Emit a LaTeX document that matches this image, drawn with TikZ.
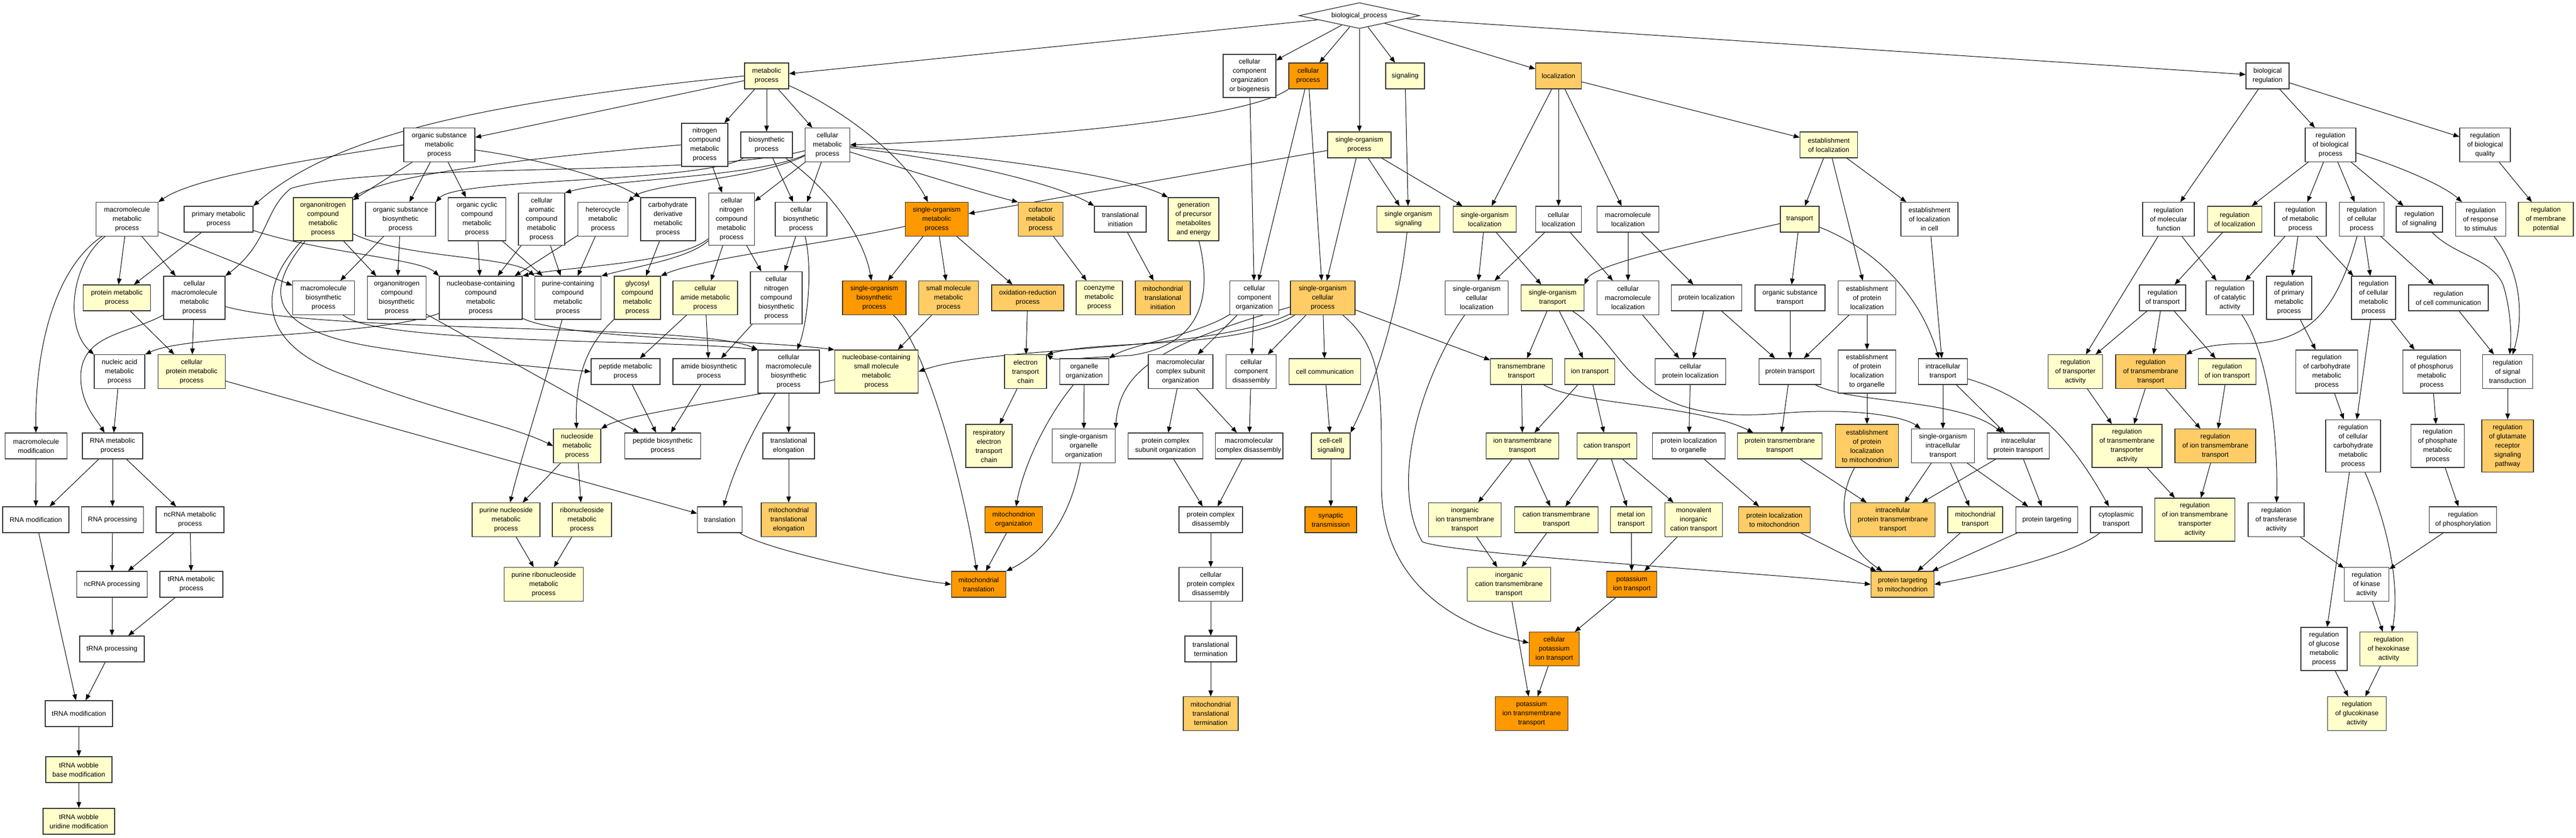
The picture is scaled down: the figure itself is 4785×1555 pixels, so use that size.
\documentclass[tikz,border=0pt]{standalone}
\usepackage{fontspec}
\setmainfont{Liberation Sans}
\usetikzlibrary{arrows.meta,shapes.geometric}
\definecolor{cy}{HTML}{FFFFCC}
\definecolor{clo}{HTML}{FFCC66}
\definecolor{co}{HTML}{FF9900}
\pgfdeclarelayer{back}
\pgfdeclarelayer{bg}
\pgfsetlayers{back,bg,main}
\tikzset{
 gn/.style={rectangle,draw=black!80,line width=1.3pt,align=center,inner xsep=3pt,inner ysep=0pt,font=\fontsize{12.6}{17}\selectfont},
 fw/.style={gn,fill=white}, fy/.style={gn,fill=cy}, flo/.style={gn,fill=clo}, fo/.style={gn,fill=co},
 h2/.style={minimum height=48pt}, h3/.style={minimum height=62.5pt}, h4/.style={minimum height=80pt}, h5/.style={minimum height=97pt},
 mw/.style={minimum width=#1pt},
 ed/.style={line width=1pt,-{Triangle[length=11pt,width=8.5pt]}}
}
\begin{document}
\begin{tikzpicture}[x=1pt,y=-1pt]
\begin{pgfonlayer}{back}
\fill[white] (0,0) rectangle (4785,1555);
\end{pgfonlayer}
\useasboundingbox (0,0) rectangle (4785,1555);
% row 29
\node[diamond,draw=black!80,line width=1.3pt,fill=white,minimum width=224pt,minimum height=48pt,inner sep=0pt,aspect=4,font=\fontsize{12.6}{17}\selectfont] (bp) at (2525,29) {biological\_process};
% row 141
\node[fy,h2,mw=82] (mp) at (1424,141) {metabolic\\process};
\node[fw,h4,mw=98] (ccob) at (2321,141) {cellular\\component\\organization\\or biogenesis};
\node[fo,h2,mw=72] (cp) at (2430,141) {cellular\\process};
\node[fy,h2,mw=72] (sig) at (2610,141) {signaling};
\node[flo,h2,mw=85] (loc) at (2895,141) {localization};
\node[fw,h2,mw=80] (breg) at (4212,141) {biological\\regulation};
% row 269
\node[fw,h3,mw=132] (osmp) at (816,269) {organic substance\\metabolic\\process};
\node[fw,h4,mw=86] (ncmp) at (1309,269) {nitrogen\\compound\\metabolic\\process};
\node[fw,h2,mw=96] (bsp) at (1424,269) {biosynthetic\\process};
\node[fw,h3,mw=83] (cmp) at (1537,269) {cellular\\metabolic\\process};
\node[fy,h2,mw=118] (sop) at (2525,269) {single-organism\\process};
\node[fy,h2,mw=107] (eloc) at (3397,269) {establishment\\of localization};
\node[fw,h3,mw=94] (rbp) at (4329,269) {regulation\\of biological\\process};
\node[fw,h3,mw=94] (rbq) at (4616,269) {regulation\\of biological\\quality};
% row 407
\node[fw,h3,mw=115] (mmp) at (236,407) {macromolecule\\metabolic\\process};
\node[fw,h2,mw=128] (pmp) at (406,407) {primary metabolic\\process};
\node[fy,h4,mw=110] (oncmp) at (600,407) {organonitrogen\\compound\\metabolic\\process};
\node[fw,h3,mw=130] (osbp) at (744,407) {organic substance\\biosynthetic\\process};
\node[fw,h4,mw=107] (occmp) at (886,407) {organic cyclic\\compound\\metabolic\\process};
\node[fw,h5,mw=86] (cacmp) at (1006,407) {cellular\\aromatic\\compound\\metabolic\\process};
\node[fw,h3,mw=93] (hmp) at (1120,407) {heterocycle\\metabolic\\process};
\node[fw,h4,mw=102] (cdmp) at (1241,407) {carbohydrate\\derivative\\metabolic\\process};
\node[fw,h5,mw=85] (cncmp) at (1359,407) {cellular\\nitrogen\\compound\\metabolic\\process};
\node[fw,h3,mw=96] (cbp) at (1488,407) {cellular\\biosynthetic\\process};
\node[fo,h3,mw=117] (somp) at (1740,407) {single-organism\\metabolic\\process};
\node[flo,h3,mw=83] (cofmp) at (1933,407) {cofactor\\metabolic\\process};
\node[fw,h2,mw=96] (ti) at (2081,407) {translational\\initiation};
\node[fy,h4,mw=94] (gpme) at (2217,407) {generation\\of precursor\\metabolites\\and energy};
\node[fy,h2,mw=117] (sos) at (2616,407) {single organism\\signaling};
\node[fy,h2,mw=117] (soloc) at (2758,407) {single-organism\\localization};
\node[fw,h2,mw=85] (cloc) at (2895,407) {cellular\\localization};
\node[fw,h2,mw=115] (mloc) at (3024,407) {macromolecule\\localization};
\node[fy,h2,mw=72] (tr) at (3343,407) {transport};
\node[fw,h3,mw=106] (elc) at (3584,407) {establishment\\of localization\\in cell};
\node[fw,h3,mw=96] (rmf) at (4028,407) {regulation\\of molecular\\function};
\node[fy,h2,mw=101] (rloc) at (4151,407) {regulation\\of localization};
\node[fw,h3,mw=96] (rmp) at (4273,407) {regulation\\of metabolic\\process};
\node[fw,h3,mw=83] (rcp) at (4387,407) {regulation\\of cellular\\process};
\node[fw,h2,mw=86] (rsig) at (4494,407) {regulation\\of signaling};
\node[fw,h3,mw=93] (rrs) at (4608,407) {regulation\\of response\\to stimulus};
\node[fy,h3,mw=102] (rmpot) at (4729,407) {regulation\\of membrane\\potential};
% row 553
\node[fy,h2,mw=125] (prmp) at (217,553) {protein metabolic\\process};
\node[fw,h4,mw=114] (cmmp) at (361,553) {cellular\\macromolecule\\metabolic\\process};
\node[fw,h3,mw=115] (mbp) at (601,553) {macromolecule\\biosynthetic\\process};
\node[fw,h4,mw=109] (oncbp) at (737,553) {organonitrogen\\compound\\biosynthetic\\process};
\node[fw,h4,mw=154] (nccmp) at (893,553) {nucleobase-containing\\compound\\metabolic\\process};
\node[fw,h4,mw=123] (pccmp) at (1055,553) {purine-containing\\compound\\metabolic\\process};
\node[fy,h4,mw=86] (gcmp) at (1184,553) {glycosyl\\compound\\metabolic\\process};
\node[fy,h3,mw=120] (camp) at (1310,553) {cellular\\amide metabolic\\process};
\node[fw,h5,mw=96] (cncbp) at (1442,553) {cellular\\nitrogen\\compound\\biosynthetic\\process};
\node[fo,h3,mw=118] (sobp) at (1624,553) {single-organism\\biosynthetic\\process};
\node[flo,h3,mw=111] (smmp) at (1762,553) {small molecule\\metabolic\\process};
\node[flo,h2,mw=134] (orp) at (1909,553) {oxidation-reduction\\process};
\node[fy,h3,mw=86] (coemp) at (2042,553) {coenzyme\\metabolic\\process};
\node[flo,h3,mw=102] (mti) at (2160,553) {mitochondrial\\translational\\initiation};
\node[fw,h3,mw=91] (cco) at (2330,553) {cellular\\component\\organization};
\node[flo,h3,mw=120] (socp) at (2457,553) {single-organism\\cellular\\process};
\node[fw,h3,mw=117] (socloc) at (2743,553) {single-organism\\cellular\\localization};
\node[fy,h2,mw=117] (sot) at (2884,553) {single-organism\\transport};
\node[fw,h3,mw=115] (cmloc) at (3024,553) {cellular\\macromolecule\\localization};
\node[fw,h2,mw=131] (ploc) at (3170,553) {protein localization};
\node[fw,h2,mw=130] (ost) at (3325,553) {organic substance\\transport};
\node[fw,h3,mw=107] (eploc) at (3468,553) {establishment\\of protein\\localization};
\node[fw,h2,mw=86] (rtr) at (4017,553) {regulation\\of transport};
\node[fw,h3,mw=88] (rca) at (4142,553) {regulation\\of catalytic\\activity};
\node[fw,h4,mw=84] (rpmp) at (4252,553) {regulation\\of primary\\metabolic\\process};
\node[fw,h4,mw=82] (rcmp) at (4409,553) {regulation\\of cellular\\metabolic\\process};
\node[fw,h2,mw=148] (rcc) at (4548,553) {regulation\\of cell communication};
% row 690
\node[fw,h3,mw=94] (namp) at (222,690) {nucleic acid\\metabolic\\process};
\node[fy,h3,mw=125] (cprmp) at (356,690) {cellular\\protein metabolic\\process};
\node[fw,h2,mw=128] (pepmp) at (1162,690) {peptide metabolic\\process};
\node[fw,h2,mw=134] (abp) at (1317,690) {amide biosynthetic\\process};
\node[fw,h4,mw=114] (cmbp) at (1465,690) {cellular\\macromolecule\\biosynthetic\\process};
\node[fy,h4,mw=155] (ncsmmp) at (1628,690) {nucleobase-containing\\small molecule\\metabolic\\process};
\node[fy,h3,mw=78] (etc) at (1905,690) {electron\\transport\\chain};
\node[fw,h2,mw=91] (oo) at (2014,690) {organelle\\organization};
\node[fw,h3,mw=120] (mcso) at (2193,690) {macromolecular\\complex subunit\\organization};
\node[fw,h3,mw=93] (ccd) at (2324,690) {cellular\\component\\disassembly};
\node[fy,h2,mw=133] (ccom) at (2461,690) {cell communication};
\node[fy,h2,mw=115] (tmt) at (2826,690) {transmembrane\\transport};
\node[fy,h2,mw=93] (iont) at (2953,690) {ion transport};
\node[fw,h2,mw=131] (cploc) at (3140,690) {cellular\\protein localization};
\node[fw,h2,mw=115] (prt) at (3325,690) {protein transport};
\node[fw,h4,mw=107] (eplo) at (3468,690) {establishment\\of protein\\localization\\to organelle};
\node[fw,h2,mw=91] (ict) at (3609,690) {intracellular\\transport};
\node[fy,h3,mw=101] (rta) at (3855,690) {regulation\\of transporter\\activity};
\node[flo,h3,mw=130] (rtmt) at (3995,690) {regulation\\of transmembrane\\transport};
\node[fy,h2,mw=107] (riont) at (4137,690) {regulation\\of ion transport};
\node[fw,h4,mw=115] (rcarb) at (4322,690) {regulation\\of carbohydrate\\metabolic\\process};
\node[fw,h4,mw=107] (rphos) at (4517,690) {regulation\\of phosphorus\\metabolic\\process};
\node[fw,h3,mw=93] (rst) at (4658,690) {regulation\\of signal\\transduction};
% row 828
\node[fw,h2,mw=115] (mmod) at (67,828) {macromolecule\\modification};
\node[fw,h2,mw=112] (rnamp) at (209,828) {RNA metabolic\\process};
\node[fy,h3,mw=88] (nucmp) at (1072,828) {nucleoside\\metabolic\\process};
\node[fw,h2,mw=141] (pepbp) at (1231,828) {peptide biosynthetic\\process};
\node[fw,h2,mw=96] (tel) at (1465,828) {translational\\elongation};
\node[fy,h4,mw=86] (retc) at (1837,828) {respiratory\\electron\\transport\\chain};
\node[fw,h3,mw=117] (sooo) at (2013,828) {single-organism\\organelle\\organization};
\node[fw,h2,mw=139] (pcso) at (2165,828) {protein complex\\subunit organization};
\node[fw,h2,mw=122] (mcd) at (2320,828) {macromolecular\\complex disassembly};
\node[fy,h2,mw=72] (ccsig) at (2472,828) {cell-cell\\signaling};
\node[fy,h2,mw=135] (iontmt) at (2828,828) {ion transmembrane\\transport};
\node[fy,h2,mw=111] (catt) at (2985,828) {cation transport};
\node[fw,h2,mw=135] (plorg) at (3137,828) {protein localization\\to organelle};
\node[fy,h2,mw=157] (prtmt) at (3306,828) {protein transmembrane\\transport};
\node[flo,h4,mw=117] (eplm) at (3468,828) {establishment\\of protein\\localization\\to mitochondrion};
\node[fw,h3,mw=117] (soict) at (3609,828) {single-organism\\intracellular\\transport};
\node[fw,h2,mw=115] (icpt) at (3749,828) {intracellular\\protein transport};
\node[fy,h4,mw=130] (rtmta) at (3951,828) {regulation\\of transmembrane\\transporter\\activity};
\node[flo,h3,mw=150] (riontmt) at (4115,828) {regulation\\of ion transmembrane\\transport};
\node[fw,h5,mw=102] (rccarb) at (4371,828) {regulation\\of cellular\\carbohydrate\\metabolic\\process};
\node[fw,h4,mw=99] (rphosm) at (4528,828) {regulation\\of phosphate\\metabolic\\process};
\node[flo,h5,mw=96] (rglu) at (4658,828) {regulation\\of glutamate\\receptor\\signaling\\pathway};
% row 965
\node[fw,h2,mw=123] (rnamod) at (66.5,965) {RNA modification};
\node[fw,h2,mw=115] (rnaproc) at (209,965) {RNA processing};
\node[fw,h2,mw=126] (ncrnamp) at (353,965) {ncRNA metabolic\\process};
\node[fy,h3,mw=126] (pnmp) at (940,965) {purine nucleoside\\metabolic\\process};
\node[fy,h3,mw=110] (rnmp) at (1081,965) {ribonucleoside\\metabolic\\process};
\node[fw,h2,mw=83] (trans) at (1337,965) {translation};
\node[flo,h3,mw=102] (mtel) at (1465,965) {mitochondrial\\translational\\elongation};
\node[fo,h2,mw=107] (mo) at (1883,965) {mitochondrion\\organization};
\node[fw,h2,mw=118] (pcd) at (2249,965) {protein complex\\disassembly};
\node[fo,h2,mw=96] (syn) at (2472,965) {synaptic\\transmission};
\node[fy,h3,mw=135] (iiontmt) at (2721,965) {inorganic\\ion transmembrane\\transport};
\node[fy,h2,mw=155] (cattmt) at (2891,965) {cation transmembrane\\transport};
\node[fy,h2,mw=77] (mit) at (3030,965) {metal ion\\transport};
\node[fy,h3,mw=107] (mict) at (3146,965) {monovalent\\inorganic\\cation transport};
\node[flo,h2,mw=133] (plm) at (3296,965) {protein localization\\to mitochondrion};
\node[flo,h3,mw=157] (icptmt) at (3516,965) {intracellular\\protein transmembrane\\transport};
\node[fy,h2,mw=102] (mtrans) at (3669,965) {mitochondrial\\transport};
\node[fw,h2,mw=115] (ptarg) at (3802,965) {protein targeting};
\node[fw,h2,mw=96] (cytt) at (3931,965) {cytoplasmic\\transport};
\node[fy,h4,mw=149] (riontmta) at (4077,965) {regulation\\of ion transmembrane\\transporter\\activity};
\node[fw,h3,mw=104] (rtfa) at (4228,965) {regulation\\of transferase\\activity};
\node[fw,h2,mw=125] (rphosy) at (4575,965) {regulation\\of phosphorylation};
% row 1085
\node[fw,h2,mw=131] (ncrnaproc) at (208,1085) {ncRNA processing};
\node[fw,h2,mw=117] (trnamp) at (355.5,1085) {tRNA metabolic\\process};
\node[fy,h3,mw=147] (prnmp) at (1010,1085) {purine ribonucleoside\\metabolic\\process};
\node[fo,h2,mw=101] (mtrl) at (1818,1085) {mitochondrial\\translation};
\node[fw,h3,mw=118] (cpcd) at (2249,1085) {cellular\\protein complex\\disassembly};
\node[fy,h3,mw=155] (icttmt) at (2803,1085) {inorganic\\cation transmembrane\\transport};
\node[fo,h2,mw=93] (kit) at (3031,1085) {potassium\\ion transport};
\node[flo,h2,mw=117] (ptm) at (3534,1085) {protein targeting\\to mitochondrion};
\node[fw,h3,mw=83] (rka) at (4396,1085) {regulation\\of kinase\\activity};
% row 1205
\node[fw,h2,mw=120] (trnaproc) at (208,1205) {tRNA processing};
\node[fw,h2,mw=96] (tterm) at (2249,1205) {translational\\termination};
\node[fo,h3,mw=93] (ckit) at (2887,1205) {cellular\\potassium\\ion transport};
\node[fw,h4,mw=86] (rgmp) at (4317,1205) {regulation\\of glucose\\metabolic\\process};
\node[fy,h3,mw=107] (rhex) at (4437,1205) {regulation\\of hexokinase\\activity};
% row 1325
\node[fw,h2,mw=125] (trnamod) at (146.5,1325) {tRNA modification};
\node[flo,h3,mw=102] (mtterm) at (2249,1325) {mitochondrial\\translational\\termination};
\node[fo,h3,mw=135] (kitmt) at (2845,1325) {potassium\\ion transmembrane\\transport};
\node[fy,h3,mw=109] (rgka) at (4378,1325) {regulation\\of glucokinase\\activity};
% rows 1429, 1525
\node[fy,h2,mw=123] (twbm) at (146.5,1429) {tRNA wobble\\base modification};
\node[fy,h2,mw=133] (twum) at (146.5,1525) {tRNA wobble\\uridine modification};

\begin{pgfonlayer}{bg}
% biological_process
\draw[ed] (bp) -- (mp);
\draw[ed] (bp) .. controls (2440,75) and (2395,98) .. (ccob);
\draw[ed] (bp) -- (cp);
\draw[ed] (bp) -- (sop);
\draw[ed] (bp) -- (sig);
\draw[ed] (bp) -- (loc);
\draw[ed] (bp) -- (breg);
% metabolic process
\draw[ed] (mp) -- (osmp);
\draw[ed] (mp.west) .. controls (900,190) and (620,250) .. (pmp.north east);
\draw[ed] (mp) -- (ncmp);
\draw[ed] (mp) -- (bsp);
\draw[ed] (mp) -- (cmp);
\draw[ed] (mp) .. controls (1560,200) and (1680,290) .. (somp);
% cellular process
\draw[ed] (cp.south west) .. controls (2300,230) and (1800,262) .. (cmp.east);
\draw[ed] (cp) -- (cco);
\draw[ed] (cp) -- (socp);
\draw[ed] (ccob) -- (cco);
% single-organism process
\draw[ed] (sop) -- (somp);
\draw[ed] (sop) -- (socp);
\draw[ed] (sop) -- (sos);
\draw[ed] (sop) -- (soloc);
\draw[ed] (sig) -- (sos);
% localization
\draw[ed] (loc) -- (soloc);
\draw[ed] (loc) -- (cloc);
\draw[ed] (loc) -- (mloc);
\draw[ed] (loc) -- (eloc);
\draw[ed] (eloc) -- (tr);
\draw[ed] (eloc) -- (eploc);
\draw[ed] (eloc) -- (elc);
\draw[ed] (tr) .. controls (3150,450) and (2960,490) .. (sot.north east);
\draw[ed] (tr) -- (ost);
\draw[ed] (tr) .. controls (3500,470) and (3570,560) .. (ict);
\draw[ed] (elc) -- (ict);
\draw[ed] (eploc) -- (prt);
\draw[ed] (eploc) -- (eplo);
\draw[ed] (ost) -- (prt);
\draw[ed] (ploc) -- (prt);
\draw[ed] (ploc) -- (cploc);
\draw[ed] (mloc) -- (cmloc);
\draw[ed] (mloc) -- (ploc);
\draw[ed] (cloc) -- (socloc);
\draw[ed] (cloc) -- (cmloc);
\draw[ed] (soloc) -- (socloc);
\draw[ed] (soloc) -- (sot);
\draw[ed] (cmloc) -- (cploc);
\draw[ed] (sot) -- (tmt);
\draw[ed] (sot) -- (iont);
\draw[ed] (sot) .. controls (3030,650) and (3020,790) .. (3300,768) .. controls (3450,755) and (3540,775) .. (soict);
\draw[ed] (tmt) -- (iontmt);
\draw[ed] (tmt) .. controls (2930,752) and (3150,750) .. (prtmt);
\draw[ed] (socp) -- (tmt);
\draw[ed] (iont) -- (iontmt);
\draw[ed] (iont) -- (catt);
\draw[ed] (iontmt) -- (iiontmt);
\draw[ed] (iontmt) -- (cattmt);
\draw[ed] (catt) -- (cattmt);
\draw[ed] (catt) -- (mit);
\draw[ed] (catt) -- (mict);
\draw[ed] (iiontmt) -- (icttmt);
\draw[ed] (cattmt) -- (icttmt);
\draw[ed] (mit) -- (kit);
\draw[ed] (mict) -- (kit);
\draw[ed] (icttmt) -- (kitmt);
\draw[ed] (kit) -- (ckit);
\draw[ed] (ckit) -- (kitmt);
\draw[ed] (socp) .. controls (2570,650) and (2566,720) .. (2566,900) .. controls (2566,1080) and (2700,1160) .. (ckit);
\draw[ed] (socp) -- (ccom);
\draw[ed] (ccom) -- (ccsig);
\draw[ed] (sos) .. controls (2600,560) and (2560,700) .. (ccsig.north east);
\draw[ed] (ccsig) -- (syn);
\draw[ed] (socloc) .. controls (2640,700) and (2580,900) .. (2642,1006) .. controls (2700,1030) and (3300,1065) .. (ptm.west);
\draw[ed] (ict) -- (soict);
\draw[ed] (ict) -- (icpt);
\draw[ed] (ict) .. controls (3780,740) and (3850,820) .. (cytt);
\draw[ed] (prt) -- (prtmt);
\draw[ed] (prt) .. controls (3440,750) and (3640,740) .. (icpt);
\draw[ed] (cploc) -- (plorg);
\draw[ed] (eplo) -- (eplm);
\draw[ed] (plorg) -- (plm);
\draw[ed] (prtmt) -- (icptmt);
\draw[ed] (eplm) .. controls (3410,930) and (3420,1010) .. (ptm);
\draw[ed] (soict) -- (icptmt);
\draw[ed] (soict) -- (mtrans);
\draw[ed] (soict) -- (ptarg);
\draw[ed] (icpt) -- (icptmt);
\draw[ed] (icpt) -- (ptarg);
\draw[ed] (plm) -- (ptm);
\draw[ed] (mtrans) -- (ptm);
\draw[ed] (ptarg) -- (ptm);
\draw[ed] (cytt) .. controls (3850,1030) and (3700,1065) .. (ptm.east);
% regulation
\draw[ed] (breg) -- (rmf);
\draw[ed] (breg) -- (rbp);
\draw[ed] (breg) -- (rbq);
\draw[ed] (rbp) -- (rloc);
\draw[ed] (rbp) -- (rmp);
\draw[ed] (rbp) -- (rcp);
\draw[ed] (rbp) -- (rsig);
\draw[ed] (rbp) .. controls (4460,310) and (4540,345) .. (rrs);
\draw[ed] (rbq) -- (rmpot);
\draw[ed] (rmf) -- (rta);
\draw[ed] (rmf) -- (rca);
\draw[ed] (rloc) -- (rtr);
\draw[ed] (rmp) -- (rca);
\draw[ed] (rmp) -- (rpmp);
\draw[ed] (rmp) -- (rcmp);
\draw[ed] (rcp) -- (rcmp);
\draw[ed] (rcp) -- (rcc);
\draw[ed] (rcp) .. controls (4345,560) and (4300,638) .. (4170,638) .. controls (4110,638) and (4080,648) .. (rtmt.north east);
\draw[ed] (rsig) .. controls (4560,475) and (4630,480) .. (4650,530) .. controls (4665,580) and (4665,630) .. (rst);
\draw[ed] (rrs) .. controls (4680,500) and (4690,580) .. (rst);
\draw[ed] (rcc) -- (rst);
\draw[ed] (rtr) -- (rtmt);
\draw[ed] (rtr) -- (riont);
\draw[ed] (rtr) -- (rta);
\draw[ed] (rca) .. controls (4210,650) and (4232,800) .. (rtfa);
\draw[ed] (rpmp) -- (rcarb);
\draw[ed] (rcmp) -- (rphos);
\draw[ed] (rcmp) -- (rccarb);
\draw[ed] (rcarb) -- (rccarb);
\draw[ed] (rphos) -- (rphosm);
\draw[ed] (rst) -- (rglu);
\draw[ed] (rtmt) -- (riontmt);
\draw[ed] (rtmt) -- (rtmta);
\draw[ed] (rta) -- (rtmta);
\draw[ed] (riont) -- (riontmt);
\draw[ed] (rtmta) -- (riontmta);
\draw[ed] (riontmt) -- (riontmta);
\draw[ed] (rtfa) -- (rka);
\draw[ed] (rphosm) -- (rphosy);
\draw[ed] (rphosy) -- (rka);
\draw[ed] (rccarb) -- (rgmp);
\draw[ed] (rccarb) .. controls (4430,960) and (4460,1080) .. (rhex);
\draw[ed] (rka) -- (rhex);
\draw[ed] (rgmp) -- (rgka);
\draw[ed] (rhex) -- (rgka);
% metabolic cluster
\draw[ed] (osmp.west) .. controls (550,300) and (360,330) .. (mmp.north east);
\draw[ed] (osmp) -- (oncmp);
\draw[ed] (osmp) -- (osbp);
\draw[ed] (osmp) -- (occmp);
\draw[ed] (osmp) .. controls (1000,295) and (1130,330) .. (cdmp.north west);
\draw[ed] (ncmp.west) .. controls (900,300) and (720,330) .. (oncmp.north east);
\draw[ed] (ncmp) -- (cncmp);
\draw[ed] (bsp) .. controls (1300,340) and (850,330) .. (osbp.north east);
\draw[ed] (bsp) -- (cbp);
\draw[ed] (bsp) .. controls (1540,350) and (1605,440) .. (sobp);
\draw[ed] (cmp) .. controls (1300,330) and (700,300) .. (540,350) .. controls (490,390) and (500,450) .. (cmmp.north east);
\draw[ed] (cmp) .. controls (1400,330) and (1150,330) .. (cacmp.north east);
\draw[ed] (cmp) .. controls (1400,335) and (1200,340) .. (hmp.north east);
\draw[ed] (cmp) -- (cncmp);
\draw[ed] (cmp) -- (cbp);
\draw[ed] (cmp) .. controls (1850,290) and (2100,330) .. (gpme.north west);
\draw[ed] (cmp) .. controls (1800,300) and (1970,345) .. (ti.north west);
\draw[ed] (cmp) .. controls (1700,320) and (1830,360) .. (cofmp.north west);
\draw[ed] (mmp) -- (prmp);
\draw[ed] (mmp) -- (cmmp);
\draw[ed] (mmp) -- (mbp);
\draw[ed] (mmp) .. controls (130,490) and (120,610) .. (namp.north west);
\draw[ed] (mmp) .. controls (100,500) and (65,650) .. (mmod);
\draw[ed] (pmp) -- (prmp);
\draw[ed] (pmp) .. controls (600,470) and (780,480) .. (nccmp.north west);
\draw[ed] (oncmp) -- (oncbp);
\draw[ed] (oncmp) .. controls (750,480) and (950,475) .. (pccmp.north west);
\draw[ed] (oncmp) .. controls (500,530) and (480,610) .. (700,645) .. controls (850,668) and (1000,682) .. (pepmp.west);
\draw[ed] (oncmp) .. controls (480,530) and (470,640) .. (650,700) .. controls (800,760) and (950,790) .. (nucmp.west);
\draw[ed] (osbp) -- (mbp);
\draw[ed] (osbp) -- (oncbp);
\draw[ed] (occmp) -- (nccmp);
\draw[ed] (occmp) -- (pccmp);
\draw[ed] (cacmp) -- (nccmp);
\draw[ed] (cacmp) -- (pccmp);
\draw[ed] (hmp) -- (nccmp);
\draw[ed] (hmp) -- (pccmp);
\draw[ed] (cdmp) -- (gcmp);
\draw[ed] (cncmp) .. controls (1280,480) and (1180,495) .. (pccmp.north east);
\draw[ed] (cncmp) .. controls (1260,490) and (1050,495) .. (nccmp.north east);
\draw[ed] (cncmp) -- (camp);
\draw[ed] (cncmp) -- (cncbp);
\draw[ed] (cbp) -- (cncbp);
\draw[ed] (cbp) .. controls (1510,500) and (1500,600) .. (cmbp);
\draw[ed] (somp) .. controls (1550,450) and (1300,480) .. (gcmp.north east);
\draw[ed] (somp) -- (sobp);
\draw[ed] (somp) -- (smmp);
\draw[ed] (somp) -- (orp);
\draw[ed] (cofmp) -- (coemp);
\draw[ed] (ti) -- (mti);
\draw[ed] (prmp) -- (cprmp);
\draw[ed] (cmmp) -- (cprmp);
\draw[ed] (cmmp) .. controls (240,620) and (150,620) .. (150,700) .. controls (150,750) and (180,780) .. (rnamp);
\draw[ed] (cmmp) .. controls (600,620) and (1300,600) .. (cmbp.north west);
\draw[ed] (mbp) .. controls (700,640) and (1250,630) .. (cmbp.north west);
\draw[ed] (oncbp) -- (pepbp);
\draw[ed] (nccmp) .. controls (700,625) and (350,620) .. (namp.north east);
\draw[ed] (nccmp) .. controls (1050,630) and (1400,630) .. (ncsmmp.north west);
\draw[ed] (pccmp) .. controls (1010,720) and (965,860) .. (pnmp);
\draw[ed] (gcmp) .. controls (1090,640) and (1068,700) .. (nucmp);
\draw[ed] (camp) -- (pepmp);
\draw[ed] (camp) -- (abp);
\draw[ed] (cncbp) -- (abp);
\draw[ed] (cmbp) -- (tel);
\draw[ed] (cmbp) .. controls (1410,780) and (1370,850) .. (trans);
\draw[ed] (pepmp) -- (pepbp);
\draw[ed] (abp) -- (pepbp);
\draw[ed] (ncsmmp) .. controls (1350,745) and (1160,770) .. (nucmp.north east);
\draw[ed] (smmp) -- (ncsmmp);
\draw[ed] (sobp) .. controls (1720,640) and (1790,900) .. (mtrl);
\draw[ed] (orp) -- (etc);
\draw[ed] (gpme) .. controls (2250,540) and (2240,640) .. (2100,660) .. controls (2000,665) and (1960,670) .. (etc.north east);
\draw[ed] (socp) .. controls (2300,650) and (2050,630) .. (etc.north east);
\draw[ed] (socp) .. controls (2250,655) and (1850,640) .. (ncsmmp.east);
\draw[ed] (socp) .. controls (2150,640) and (2080,690) .. (sooo.north east);
\draw[ed] (socp) -- (ccd);
\draw[ed] (cco) -- (mcso);
\draw[ed] (cco) -- (ccd);
\draw[ed] (cco) .. controls (2230,620) and (2100,640) .. (oo.north east);
\draw[ed] (etc) -- (retc);
\draw[ed] (oo) -- (sooo);
\draw[ed] (oo) .. controls (1940,780) and (1900,870) .. (mo);
\draw[ed] (mcso) -- (pcso);
\draw[ed] (mcso) -- (mcd);
\draw[ed] (ccd) -- (mcd);
\draw[ed] (pcso) -- (pcd);
\draw[ed] (mcd) -- (pcd);
\draw[ed] (pcd) -- (cpcd);
\draw[ed] (cpcd) -- (tterm);
\draw[ed] (tterm) -- (mtterm);
\draw[ed] (mo) -- (mtrl);
\draw[ed] (sooo) .. controls (1990,950) and (1950,1020) .. (mtrl.north east);
\draw[ed] (trans) .. controls (1420,1020) and (1650,1070) .. (mtrl.west);
\draw[ed] (tel) -- (mtel);
\draw[ed] (nucmp) -- (pnmp);
\draw[ed] (nucmp) -- (rnmp);
\draw[ed] (pnmp) -- (prnmp);
\draw[ed] (rnmp) -- (prnmp);
\draw[ed] (cprmp) -- (trans);
% RNA branch
\draw[ed] (namp) -- (rnamp);
\draw[ed] (mmod) -- (rnamod);
\draw[ed] (rnamp) -- (rnamod);
\draw[ed] (rnamp) -- (rnaproc);
\draw[ed] (rnamp) -- (ncrnamp);
\draw[ed] (rnaproc) -- (ncrnaproc);
\draw[ed] (ncrnamp) -- (ncrnaproc);
\draw[ed] (ncrnamp) -- (trnamp);
\draw[ed] (ncrnaproc) -- (trnaproc);
\draw[ed] (trnamp) -- (trnaproc);
\draw[ed] (rnamod) -- (trnamod);
\draw[ed] (trnaproc) -- (trnamod);
\draw[ed] (trnamod) -- (twbm);
\draw[ed] (twbm) -- (twum);
\end{pgfonlayer}
\end{tikzpicture}
\end{document}
